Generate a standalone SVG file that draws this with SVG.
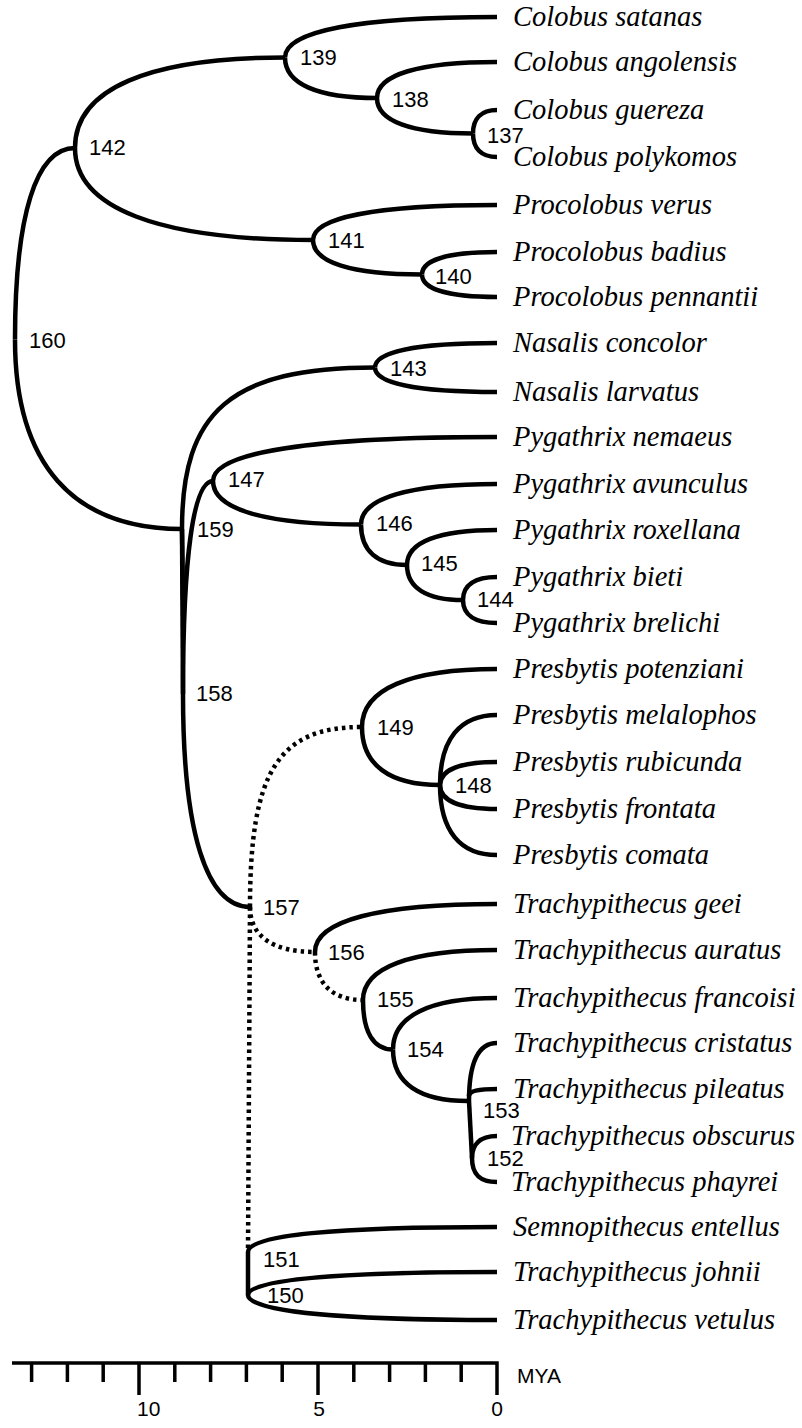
<svg xmlns="http://www.w3.org/2000/svg" width="802" height="1428" viewBox="0 0 802 1428">
<style>
.b{fill:none;stroke:#000;stroke-width:4.5}
.d{fill:none;stroke:#000;stroke-width:4.5;stroke-dasharray:3.5 4}
.ax{fill:none;stroke:#000;stroke-width:3.5}
.tx{font-family:"Liberation Serif","Times New Roman",serif;font-style:italic;font-size:28.5px;fill:#000}
.nl{font-family:"Liberation Sans",Arial,sans-serif;font-size:22px;fill:#000}
.al{font-family:"Liberation Sans",Arial,sans-serif;font-size:21px;fill:#000}
</style>
<rect width="802" height="1428" fill="#fff"/>
<g id="connectors">
<path class="b" d="M15,339.5 C15,215 36,148 75,148"/>
<path class="b" d="M15,339.5 C15,464 73,529 182,529"/>
<path class="b" d="M75,148 C75,89 148.5,57.5 285,57.5"/>
<path class="b" d="M75,148 C75,208 158.3,240 313,240"/>
<path class="b" d="M285,57.5 C285,31.2 359.2,17 497,17"/>
<path class="b" d="M285,57.5 C285,83.8 317.2,98 377,98"/>
<path class="b" d="M377,98 C377,74.6 419,62 497,62"/>
<path class="b" d="M377,98 C377,121.1 410.6,133.5 473,133.5"/>
<path class="b" d="M473,133.5 C473,118.2 481.4,110 497,110"/>
<path class="b" d="M473,133.5 C473,148.8 481.4,157 497,157"/>
<path class="b" d="M313,240 C313,217.2 377.4,205 497,205"/>
<path class="b" d="M313,240 C313,262.4 351.2,274.5 422,274.5"/>
<path class="b" d="M422,274.5 C422,259.9 448.2,252 497,252"/>
<path class="b" d="M422,274.5 C422,289.1 448.2,297 497,297"/>
<path class="b" d="M183,600 L182,529 C182,412 230,367.5 375,367.5"/>
<path class="b" d="M182,529 L183,694"/>
<path class="b" d="M375,367.5 C375,351.6 417.7,343 497,343"/>
<path class="b" d="M375,367.5 C375,383.4 417.7,392 497,392"/>
<path class="b" d="M183,694 C183,555.6 193.5,481 213,481"/>
<path class="b" d="M183,694 C183,832.5 206.5,907 250,907"/>
<path class="b" d="M213,481 C213,452.4 312.4,437 497,437"/>
<path class="b" d="M213,481 C213,509.3 264.8,524.5 361,524.5"/>
<path class="b" d="M361,524.5 C361,498.2 408.6,484 497,484"/>
<path class="b" d="M361,524.5 C361,550.8 377.1,565 407,565"/>
<path class="b" d="M407,565 C407,542.2 438.5,530 497,530"/>
<path class="b" d="M407,565 C407,587.8 426.6,600 463,600"/>
<path class="b" d="M463,600 C463,585 474.9,577 497,577"/>
<path class="b" d="M463,600 C463,615 474.9,623 497,623"/>
<path class="d" d="M250,907 C250,772 278,727 362,727"/>
<path class="d" d="M250,907 C250,936 272.7,952 315,952"/>
<path class="d" d="M250,907 L248,1252"/>
<path class="b" d="M362,727 C362,689.3 409.2,669 497,669"/>
<path class="b" d="M362,727 C362,764.7 389.3,785 440,785"/>
<path class="b" d="M440,785 C440,739.5 459.9,715 497,715"/>
<path class="b" d="M440,785 C440,770 459.9,762 497,762"/>
<path class="b" d="M440,785 C440,800.6 459.9,809 497,809"/>
<path class="b" d="M440,785 C440,830.5 459.9,855 497,855"/>
<path class="b" d="M315,952 C315,920.8 378.7,904 497,904"/>
<path class="d" d="M315,952 C315,983.2 331.8,1000 363,1000"/>
<path class="b" d="M363,1000 C363,967.5 409.9,950 497,950"/>
<path class="b" d="M363,1000 C363,1032.2 373.5,1049.5 393,1049.5"/>
<path class="b" d="M393,1049.5 C393,1016 429.4,998 497,998"/>
<path class="b" d="M393,1049.5 C393,1083 419.2,1101 468,1101"/>
<path class="b" d="M469,1101 C469,1063.3 478.2,1043 497,1043"/>
<path class="b" d="M469,1096 C469,1091 478.2,1089 497,1089"/>
<path class="b" d="M469,1101 L472,1158"/>
<path class="b" d="M472,1158 C472,1144.9 479.5,1136 497,1136"/>
<path class="b" d="M472,1158 C472,1174.1 479.5,1182 497,1182"/>
<path class="b" d="M248,1252 C248,1235 335.2,1227 497,1227"/>
<path class="b" d="M248,1252 L248,1295"/>
<path class="b" d="M248,1295 C248,1280 335.2,1272 497,1272"/>
<path class="b" d="M248,1295 C248,1311 335.2,1320 497,1320"/>
</g>
<g id="nodes">
<g id="n137"><text class="nl" x="487" y="143">137</text></g>
<g id="n138"><text class="nl" x="392" y="107">138</text></g>
<g id="n139"><text class="nl" x="300" y="65">139</text></g>
<g id="n140"><text class="nl" x="435" y="284">140</text></g>
<g id="n141"><text class="nl" x="328" y="248">141</text></g>
<g id="n142"><text class="nl" x="89" y="155">142</text></g>
<g id="n143"><text class="nl" x="390" y="376">143</text></g>
<g id="n144"><text class="nl" x="477" y="607">144</text></g>
<g id="n145"><text class="nl" x="421" y="571">145</text></g>
<g id="n146"><text class="nl" x="376" y="531">146</text></g>
<g id="n147"><text class="nl" x="228" y="487">147</text></g>
<g id="n148"><text class="nl" x="455" y="793">148</text></g>
<g id="n149"><text class="nl" x="377" y="735">149</text></g>
<g id="n150"><text class="nl" x="267" y="1303">150</text></g>
<g id="n151"><text class="nl" x="263" y="1267">151</text></g>
<g id="n152"><text class="nl" x="487" y="1166">152</text></g>
<g id="n153"><text class="nl" x="483" y="1118">153</text></g>
<g id="n154"><text class="nl" x="407" y="1057">154</text></g>
<g id="n155"><text class="nl" x="377" y="1007">155</text></g>
<g id="n156"><text class="nl" x="328" y="960">156</text></g>
<g id="n157"><text class="nl" x="263" y="915">157</text></g>
<g id="n158"><text class="nl" x="196" y="701">158</text></g>
<g id="n159"><text class="nl" x="197" y="537">159</text></g>
<g id="n160"><text class="nl" x="29" y="348">160</text></g>
</g>
<g id="taxa">
<g id="t0"><text class="tx" x="513" y="26">Colobus satanas</text></g>
<g id="t1"><text class="tx" x="513" y="71">Colobus angolensis</text></g>
<g id="t2"><text class="tx" x="513" y="119">Colobus guereza</text></g>
<g id="t3"><text class="tx" x="513" y="166">Colobus polykomos</text></g>
<g id="t4"><text class="tx" x="513" y="214">Procolobus verus</text></g>
<g id="t5"><text class="tx" x="513" y="261">Procolobus badius</text></g>
<g id="t6"><text class="tx" x="513" y="306">Procolobus pennantii</text></g>
<g id="t7"><text class="tx" x="513" y="352">Nasalis concolor</text></g>
<g id="t8"><text class="tx" x="513" y="401">Nasalis larvatus</text></g>
<g id="t9"><text class="tx" x="513" y="446">Pygathrix nemaeus</text></g>
<g id="t10"><text class="tx" x="513" y="493">Pygathrix avunculus</text></g>
<g id="t11"><text class="tx" x="513" y="539">Pygathrix roxellana</text></g>
<g id="t12"><text class="tx" x="513" y="586">Pygathrix bieti</text></g>
<g id="t13"><text class="tx" x="513" y="632">Pygathrix brelichi</text></g>
<g id="t14"><text class="tx" x="513" y="678">Presbytis potenziani</text></g>
<g id="t15"><text class="tx" x="513" y="724">Presbytis melalophos</text></g>
<g id="t16"><text class="tx" x="513" y="771">Presbytis rubicunda</text></g>
<g id="t17"><text class="tx" x="513" y="818">Presbytis frontata</text></g>
<g id="t18"><text class="tx" x="513" y="864">Presbytis comata</text></g>
<g id="t19"><text class="tx" x="513" y="913">Trachypithecus geei</text></g>
<g id="t20"><text class="tx" x="513" y="959">Trachypithecus auratus</text></g>
<g id="t21"><text class="tx" x="513" y="1007">Trachypithecus francoisi</text></g>
<g id="t22"><text class="tx" x="513" y="1052">Trachypithecus cristatus</text></g>
<g id="t23"><text class="tx" x="513" y="1098">Trachypithecus pileatus</text></g>
<g id="t24"><text class="tx" x="511" y="1145">Trachypithecus obscurus</text></g>
<g id="t25"><text class="tx" x="511" y="1191">Trachypithecus phayrei</text></g>
<g id="t26"><text class="tx" x="513" y="1236">Semnopithecus entellus</text></g>
<g id="t27"><text class="tx" x="513" y="1281">Trachypithecus johnii</text></g>
<g id="t28"><text class="tx" x="513" y="1329">Trachypithecus vetulus</text></g>
</g>
<g id="axis">
<path class="ax" d="M12,1363 H497 V1395"/>
<path class="ax" d="M31.6,1363 V1382 M67.4,1363 V1382 M103.2,1363 V1382 M139,1363 V1395 M174.8,1363 V1382 M210.6,1363 V1382 M246.4,1363 V1382 M282.2,1363 V1382 M318,1363 V1395 M353.8,1363 V1382 M389.6,1363 V1382 M425.4,1363 V1382 M461.2,1363 V1382"/>
<text class="al" x="137" y="1416">10</text>
<text class="al" x="319" y="1416" text-anchor="middle">5</text>
<text class="al" x="497" y="1416" text-anchor="middle">0</text>
<text class="al" x="517" y="1383">MYA</text>
</g>
</svg>
